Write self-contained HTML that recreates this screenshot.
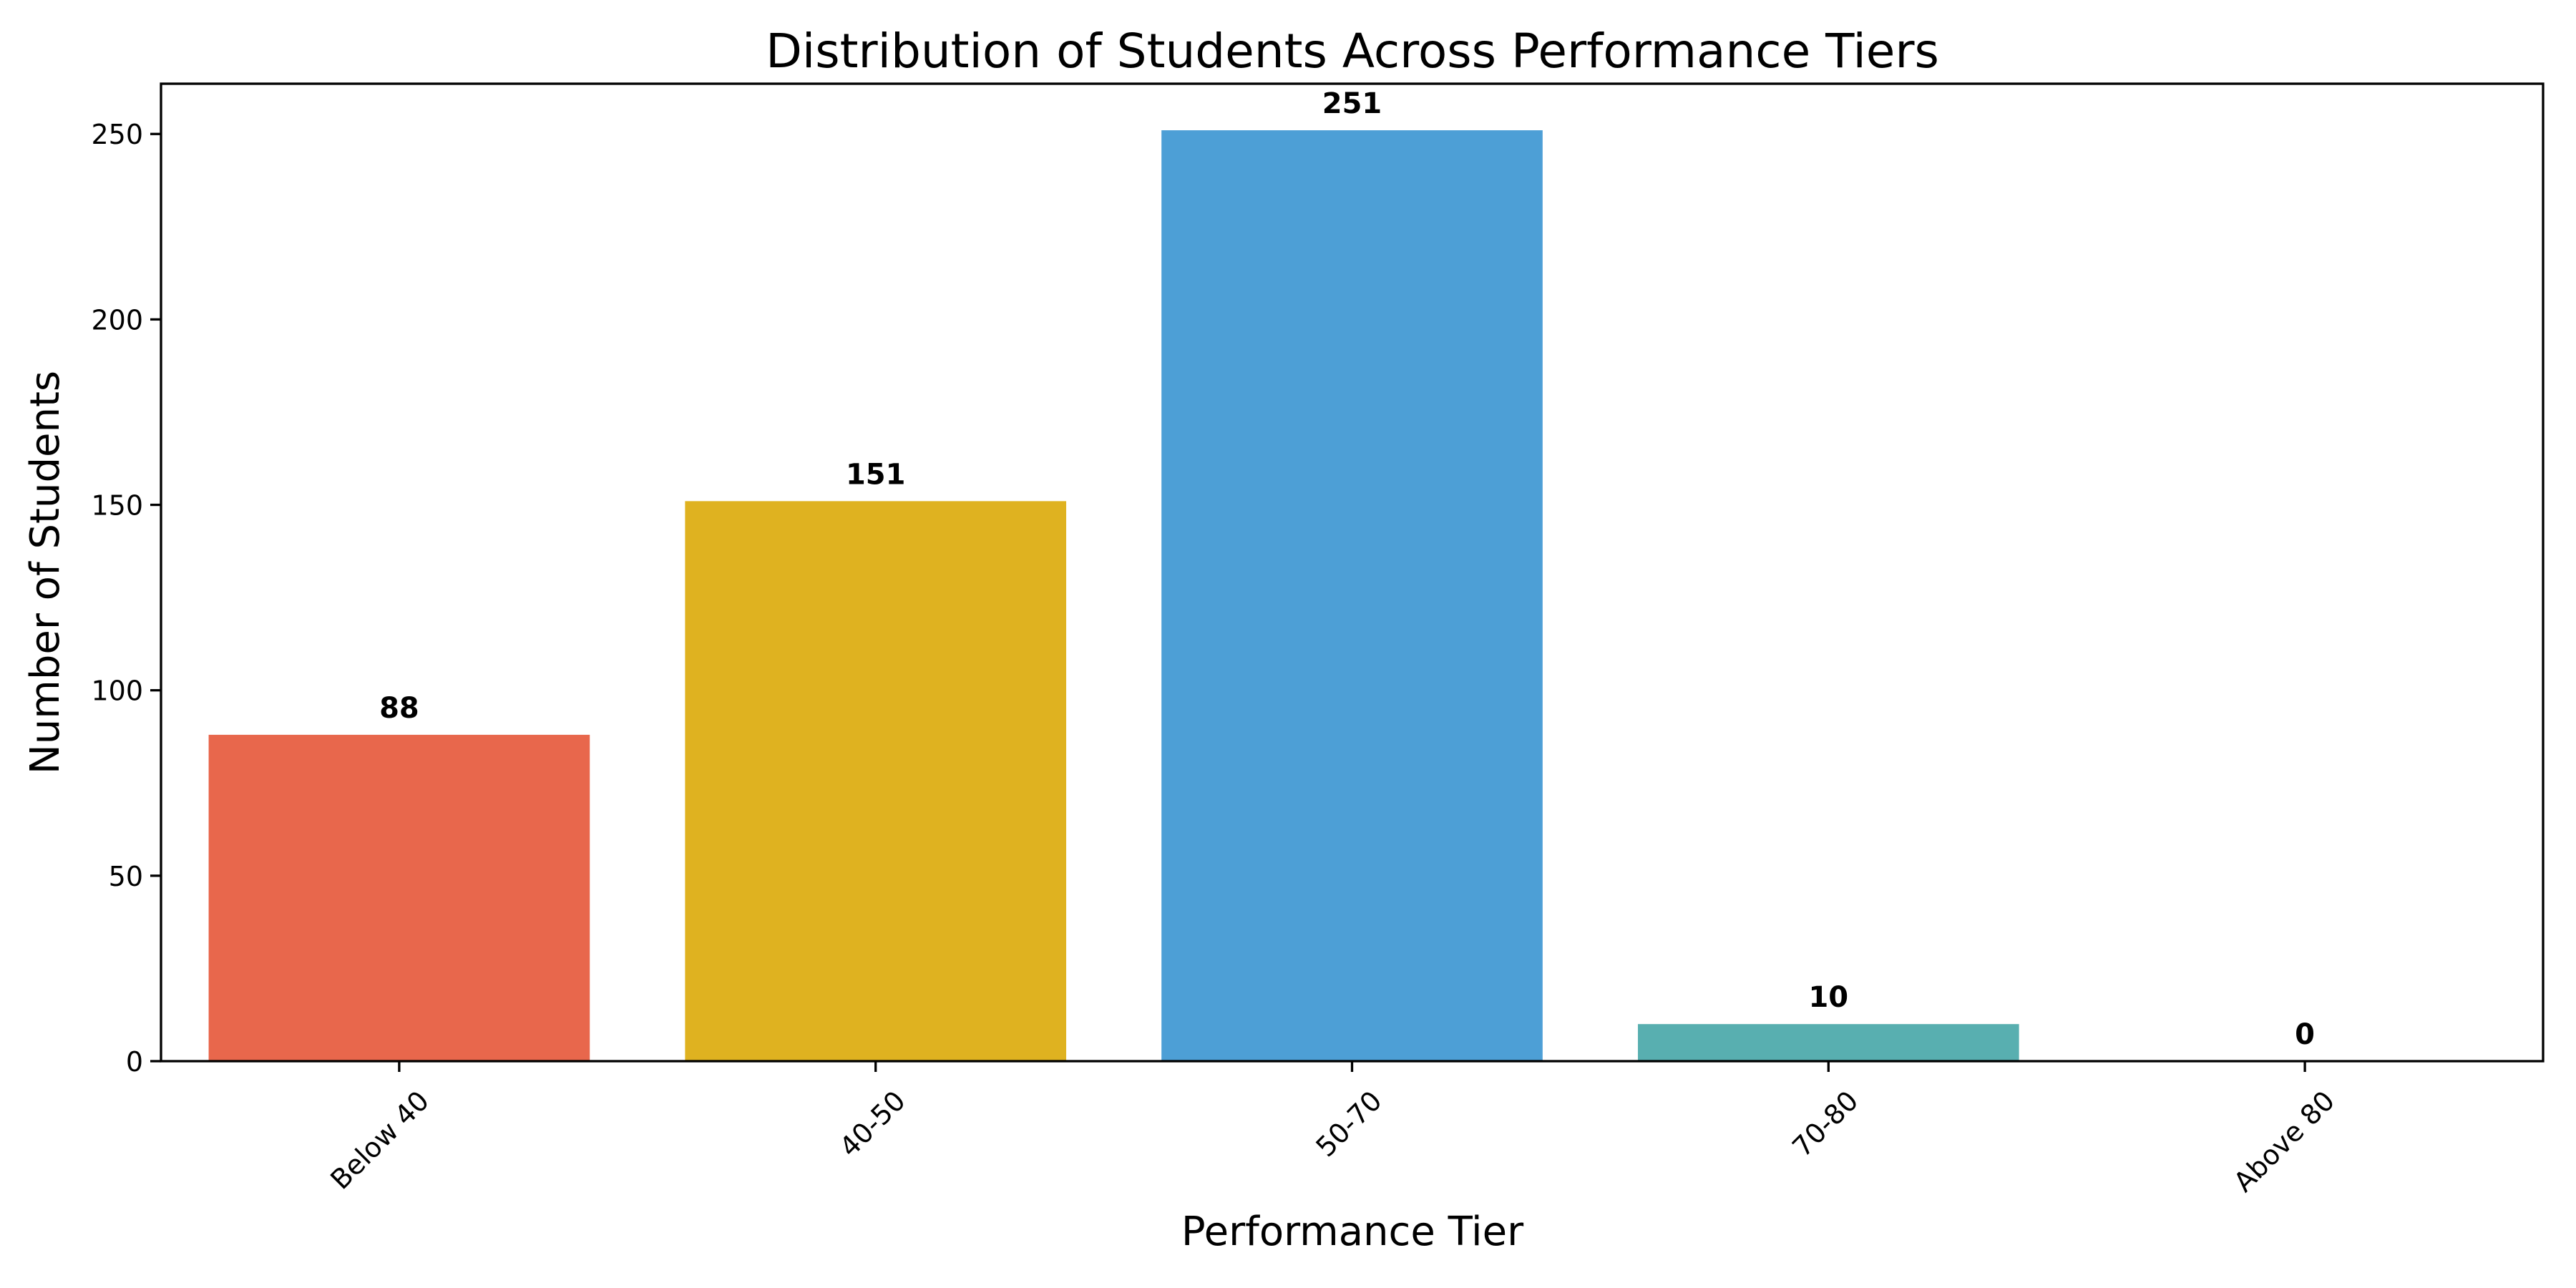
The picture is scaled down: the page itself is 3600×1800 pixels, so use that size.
<!DOCTYPE html>
<html><head><meta charset="utf-8"><style>
html,body{margin:0;padding:0;background:#fff;}
svg{display:block;font-family:"DejaVu Sans","Liberation Sans",sans-serif;}
</style></head><body>
<svg id="chart" width="3600" height="1800" viewBox="0 0 3600 1800" xmlns="http://www.w3.org/2000/svg">
<rect width="3600" height="1800" fill="#fff"/>
<text x="1890" y="94" font-size="66" text-anchor="middle">Distribution of Students Across Performance Tiers</text>
<text x="1890" y="1740" font-size="56" text-anchor="middle">Performance Tier</text>
<text transform="translate(82,800) rotate(-90)" font-size="56" text-anchor="middle">Number of Students</text>
<g id="marks"></g>
<rect x="225" y="117" width="3329" height="1366" fill="none" stroke="#000" stroke-width="3.3"/>
</svg>
<script>
const categories = ["Below 40","40-50","50-70","70-80","Above 80"];
const values = [88,151,251,10,0];
const colors = ["#E8674C","#DFB220","#4D9FD6","#58AFB0","#9B59B6"];
const yTicks = [0,50,100,150,200,250];

const L=225,R=3554,T=117,B=1483,yMax=263.55;
const xs=i=>L+(i+0.5)*(R-L)/categories.length;
const ys=v=>B-v/yMax*(B-T);
const bw=0.8*(R-L)/categories.length;
const g=document.getElementById('marks');
const NS="http://www.w3.org/2000/svg";
function mk(t,a){const e=document.createElementNS(NS,t);for(const k in a)e.setAttribute(k,a[k]);g.appendChild(e);return e;}
categories.forEach((c,i)=>{
  const r=mk('rect',{x:xs(i)-bw/2,y:ys(values[i]),width:bw,height:B-ys(values[i]),fill:colors[i]});
  
  
  const v=mk('text',{x:xs(i),y:ys(values[i])-24,'font-size':40,'font-weight':'bold','text-anchor':'middle'});
  v.textContent=values[i];
  
  
  const tk=mk('line',{x1:xs(i),x2:xs(i),y1:B,y2:B+15,stroke:'#000','stroke-width':3.3});
  
  
  const tx=xs(i)+24,ty=B+38;
  const t=mk('text',{x:tx,y:ty,'font-size':38,'text-anchor':'end','dominant-baseline':'hanging',transform:`rotate(-45 ${tx} ${ty})`});
  t.textContent=c;
  
  
});
yTicks.forEach(v=>{
  const tk=mk('line',{x1:L-15,x2:L,y1:ys(v),y2:ys(v),stroke:'#000','stroke-width':3.3});
  
  
  const t=mk('text',{x:L-25,y:ys(v)+14,'font-size':38,'text-anchor':'end'});
  t.textContent=v;
  
  
});
</script>
</body></html>
